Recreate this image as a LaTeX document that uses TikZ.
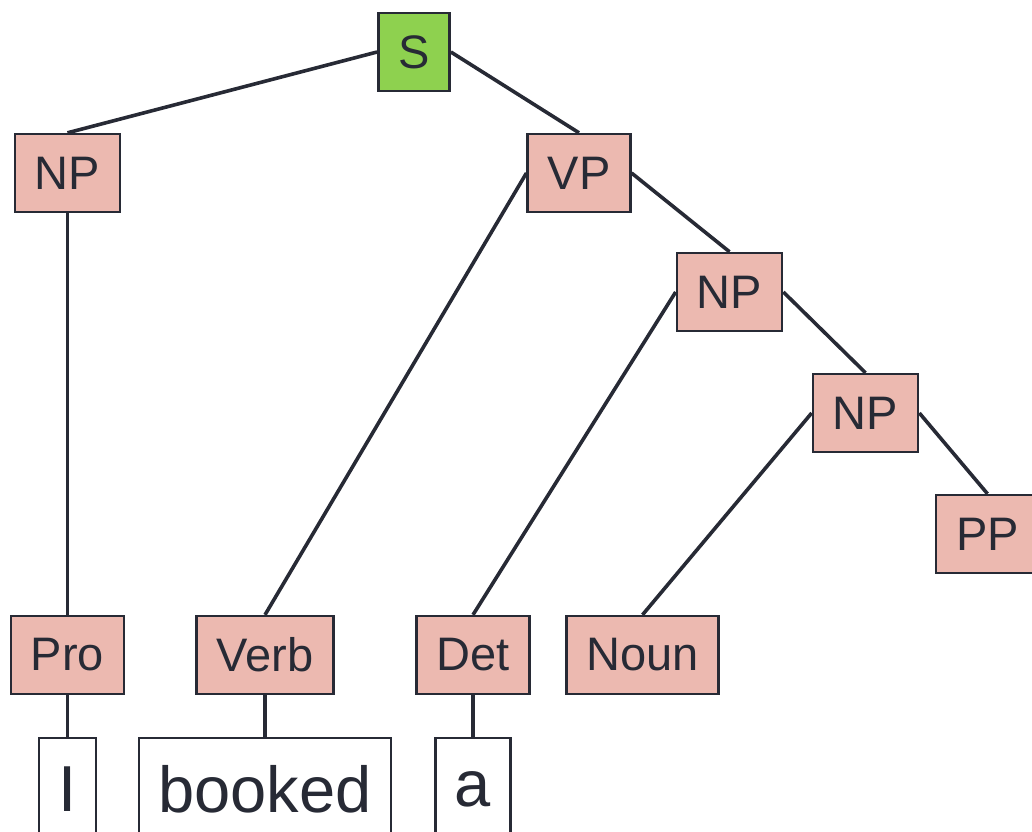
\documentclass[tikz,border=0pt]{standalone}
\usepackage{fontspec}
\setmainfont{Liberation Sans}
\definecolor{inkc}{HTML}{272A35}
\definecolor{catfill}{HTML}{ECB9B0}
\definecolor{rootfill}{HTML}{8ED14F}
\tikzset{
  cat/.style={draw=inkc, line width=2.4pt, fill=catfill, text=inkc,
    inner xsep=20pt, minimum height=78pt, font=\fontsize{47}{50}\selectfont},
  root/.style={cat, fill=rootfill},
  word/.style={draw=inkc, line width=2.4pt, fill=white, text=inkc,
    inner xsep=19.5pt, minimum height=102pt, font=\fontsize{65}{68}\selectfont},
  branch/.style={draw=inkc, line width=3.6pt}
}
\begin{document}
\begin{tikzpicture}[x=1pt, y=-1pt]
  \clip (0,0) rectangle (1032,831);
  % phrase nodes
  \node[root] (s) at (414,52) {S};
  \node[cat] (np1) at (67.5,173) {NP};
  \node[cat] (vp) at (579,173) {VP};
  \node[cat] (np2) at (729.5,292) {NP};
  \node[cat] (np3) at (865.5,413) {NP};
  \node[cat] (pp) at (987.5,534) {PP};
  % preterminals
  \node[cat] (pro) at (67.5,655) {Pro};
  \node[cat] (verb) at (265,655) {Verb};
  \node[cat] (det) at (473,655) {Det};
  \node[cat] (noun) at (642.5,655) {Noun};
  % words
  \node[word] (w1) at (67.5,789) {I};
  \node[word] (w2) at (265,789) {booked};
  \node[word] (w3) at (473,789) {a};
  % branches
  \draw[branch] (s.west) -- (np1.north);
  \draw[branch] (s.east) -- (vp.north);
  \draw[branch] (np1.south) -- (pro.north);
  \draw[branch] (vp.west) -- (verb.north);
  \draw[branch] (vp.east) -- (np2.north);
  \draw[branch] (np2.west) -- (det.north);
  \draw[branch] (np2.east) -- (np3.north);
  \draw[branch] (np3.west) -- (noun.north);
  \draw[branch] (np3.east) -- (pp.north);
  \draw[branch] (pro.south) -- (w1.north);
  \draw[branch] (verb.south) -- (w2.north);
  \draw[branch] (det.south) -- (w3.north);
\end{tikzpicture}
\end{document}
